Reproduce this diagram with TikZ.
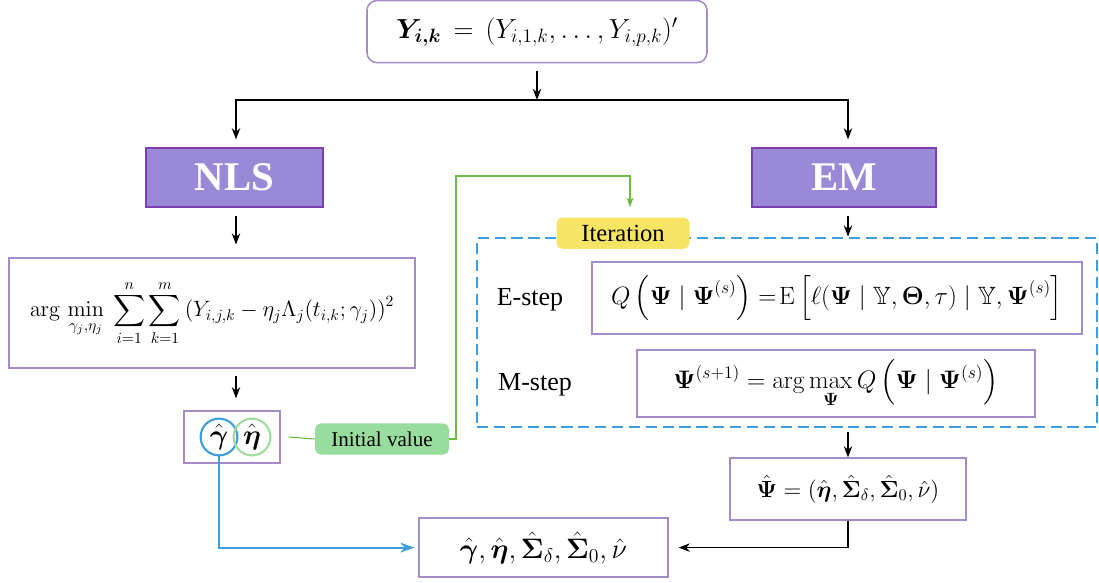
\RequirePackage{fix-cm}
\documentclass[tikz,border=0pt]{standalone}
\usepackage{amsmath,amssymb}
\usepackage[no-math]{fontspec}
\setmainfont{Liberation Serif}
\usepackage{tikz}
\usetikzlibrary{calc,positioning,arrows.meta}
\definecolor{flowframe}{HTML}{A68CC6}
\definecolor{flowfill}{HTML}{9A89D7}
\definecolor{flowedge}{HTML}{7D3EB2}
\definecolor{flowblue}{HTML}{3E9DDB}
\definecolor{flowgreen}{HTML}{6BBB45}
\definecolor{initfill}{HTML}{98DD9D}
\definecolor{iterfill}{HTML}{F6E564}
\definecolor{etaring}{HTML}{9FDCA0}
\newcommand{\fs}[1]{\fontsize{#1}{#1}\selectfont}

\begin{document}
\begin{tikzpicture}[x=1cm, y=1cm, font=\fs{15},
  mbox/.style={draw=flowframe, line width=0.9pt, inner sep=0pt, align=center},
  method/.style={draw=flowedge, fill=flowfill, line width=1pt, inner sep=0pt,
    minimum height=1.475cm, text=white, font=\fs{29}\bfseries},
  tag/.style={rounded corners=4pt, inner sep=0pt, minimum height=0.78cm},
  flow/.style={-{Stealth[length=8pt,width=6pt]}, line width=0.8pt},
  steplabel/.style={font=\fs{18.5}}]
  \useasboundingbox (0,0) rectangle (27.475,-14.575);

  \node[mbox, rounded corners=7pt, line width=1.1pt, minimum width=8.5cm, minimum height=1.55cm] (obs) at (13.425,-0.79)
    {\fs{19.6}$\boldsymbol{Y_{i,k}}\,=\,(Y_{i,1,k},\ldots,Y_{i,p,k})'$};

  \node[method, minimum width=4.425cm] (nls) at (5.86,-4.44) {NLS};
  \node[method, minimum width=4.6cm] (em) at (21.1,-4.44) {EM};

  \coordinate (split) at (13.425,-2.5);
  \draw[flow] (obs.south) ++(0,-0.2) -- (split);
  \draw[flow] (split) -| ([yshift=0.2cm]nls.north -| 5.9,0);
  \draw[flow] (split) -| ([yshift=0.2cm]em.north -| 21.2,0);

  % NLS branch
  \node[mbox, minimum width=10.15cm, minimum height=2.75cm] (lsq) at (5.3,-7.825)
    {\fs{15.8}$\displaystyle \arg\,\min_{\gamma_j,\eta_j}\ \sum_{i=1}^{n}\sum_{k=1}^{m}\left(Y_{i,j,k}-\eta_j\Lambda_j(t_{i,k};\gamma_j)\right)^2$};
  \draw[flow] ([yshift=-0.2cm]nls.south -| 5.9,0) -- ([yshift=0.32cm]lsq.north -| 5.9,0);

  \node[mbox, minimum width=2.4cm, minimum height=1.3cm] (est) at (5.8,-10.925) {};
  \node[draw=flowblue, line width=1.5pt, circle, minimum size=0.92cm, inner sep=0pt] (gam) at (5.475,-10.925)
    {\fs{20}$\hat{\boldsymbol{\gamma}}$};
  \node[draw=etaring, line width=1.5pt, circle, minimum size=0.92cm, inner sep=0pt] (eta) at (6.3,-10.925)
    {\fs{20}$\hat{\boldsymbol{\eta}}$};
  \draw[flow] ([yshift=-0.18cm]lsq.south -| 5.9,0) -- ([yshift=0.3cm]est.north -| 5.9,0);

  \node[tag, fill=initfill, minimum width=3.35cm] (init) at (9.55,-10.975) {Initial value};
  \draw[flowgreen, line width=0.8pt] ([xshift=0.2cm]est.east) -- (init.west);
  \coordinate (bend) at (11.4,-4.4);
  \draw[flowgreen, line width=0.8pt, -{Stealth[length=7pt,width=5pt]}]
    (init.east) -| (bend) -| (15.75,-5.18);

  % EM iteration
  \node[draw=flowblue, dash pattern=on 8pt off 4pt, line width=2pt, minimum width=15.5cm,
    minimum height=4.725cm, inner sep=0pt] (iter) at (19.675,-8.3125) {};
  \node[tag, fill=iterfill, minimum width=3.325cm, font=\fs{17.5}] (itlabel) at (15.575,-5.83) {Iteration};
  \draw[flow] ([yshift=-0.2cm]em.south -| 21.2,0) -- (iter.north -| 21.2,0);

  \node[steplabel] (estep) at (13.25,-7.5) {E-step};
  \node[mbox, minimum width=12.25cm, minimum height=1.8cm] (ebox) at (20.925,-7.45)
    {\fs{17.8}$Q\left(\boldsymbol{\Psi}\mid\boldsymbol{\Psi}^{(s)}\right)=\!\mathrm{E}\left[\ell(\boldsymbol{\Psi}\mid\mathbb{Y},\boldsymbol{\Theta},\tau)\mid\mathbb{Y},\boldsymbol{\Psi}^{(s)}\right]$};
  \node[steplabel] (mstep) at (13.375,-9.625) {M-step};
  \node[mbox, minimum width=9.95cm, minimum height=1.675cm] (mbox) at (20.9,-9.59)
    {\fs{18}$\boldsymbol{\Psi}^{(s+1)}=\arg\max\limits_{\boldsymbol{\Psi}}Q\left(\boldsymbol{\Psi}\mid\boldsymbol{\Psi}^{(s)}\right)$};

  \node[mbox, minimum width=5.9cm, minimum height=1.55cm] (psi) at (21.2,-12.225)
    {\fs{16.6}$\hat{\boldsymbol{\Psi}}=(\hat{\boldsymbol{\eta}},\hat{\boldsymbol{\Sigma}}_{\delta},\hat{\boldsymbol{\Sigma}}_0,\hat{\nu})$};
  \draw[flow] ([yshift=-0.1cm]iter.south -| 21.2,0) -- (psi.north -| 21.2,0);

  % final estimates
  \node[mbox, minimum width=6.225cm, minimum height=1.475cm] (final) at (13.5875,-13.69)
    {\fs{20}$\hat{\boldsymbol{\gamma}},\hat{\boldsymbol{\eta}},\hat{\boldsymbol{\Sigma}}_{\delta},\hat{\boldsymbol{\Sigma}}_0,\hat{\nu}$};
  \draw[flow] (psi.south -| 21.2,0) |- ([xshift=0.25cm]final.east);
  \draw[flowblue, line width=1.3pt, -{Stealth[length=10pt,width=7pt]}] (gam.south) |- ([xshift=-0.1cm]final.west);
\end{tikzpicture}
\end{document}
